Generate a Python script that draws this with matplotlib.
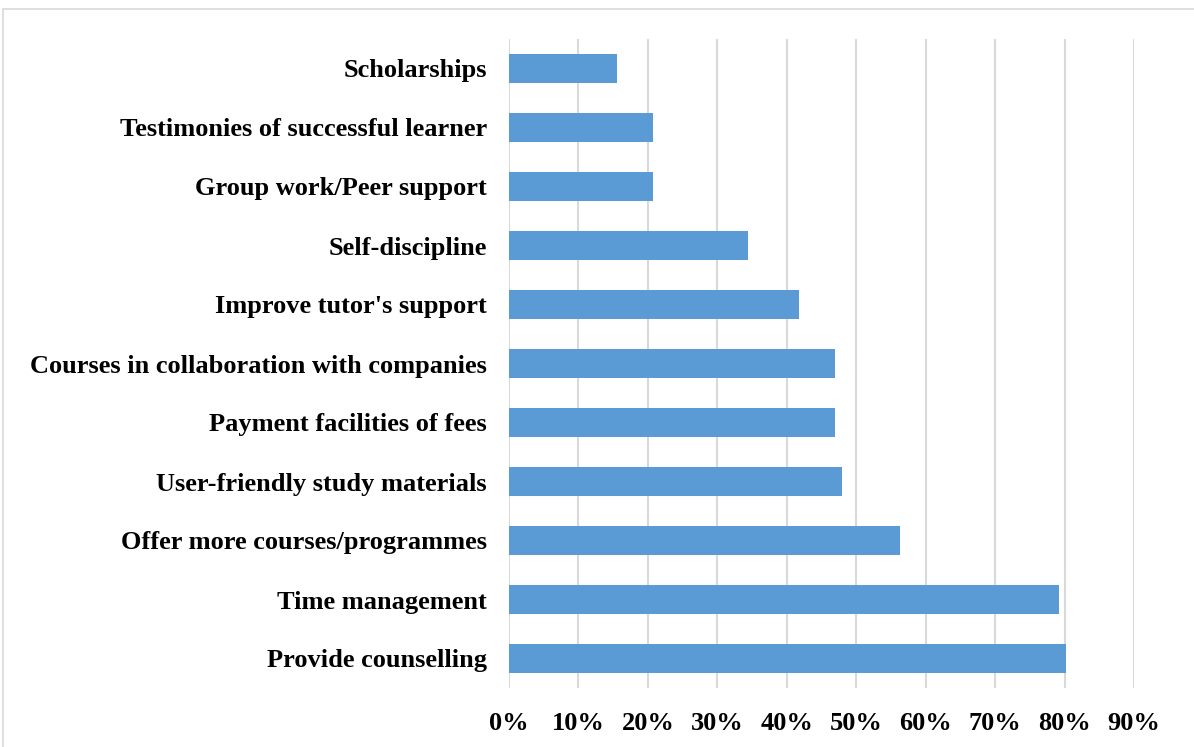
import matplotlib.pyplot as plt
from matplotlib.patches import Rectangle
from matplotlib.ticker import PercentFormatter

# data (top to bottom as shown)
labels = ["Scholarships", "Testimonies of successful learner", "Group work/Peer support",
          "Self-discipline", "Improve tutor's support", "Courses in collaboration with companies",
          "Payment facilities of fees", "User-friendly study materials",
          "Offer more courses/programmes", "Time management", "Provide counselling"]
values = [0.156, 0.208, 0.208, 0.344, 0.417, 0.469, 0.469, 0.479, 0.563, 0.792, 0.802]
xticks = [0, 0.1, 0.2, 0.3, 0.4, 0.5, 0.6, 0.7, 0.8, 0.9]

plt.rcParams['font.family'] = ['Liberation Serif', 'DejaVu Serif']

fig = plt.figure(figsize=(11.94, 7.47), dpi=100)
ax = fig.add_axes([509 / 1194, 1 - 688 / 747, (1134 - 509) / 1194, (688 - 39) / 747])

# chart border
fig.patches.append(Rectangle((3 / 1194, -0.1), 1.1, 1 - 9 / 747 + 0.1, transform=fig.transFigure,
                             fill=False, ec="#d9d9d9", lw=1.2))

ypos = list(range(len(labels)))
ax.barh(ypos, values, height=0.5, color="#5b9bd5", zorder=3)

ax.set_xlim(0, 0.9)
ax.set_ylim(len(labels) - 0.5, -0.5)
ax.set_xticks(xticks)
ax.xaxis.set_major_formatter(PercentFormatter(1.0, decimals=0))
ax.set_yticks(ypos)
ax.set_yticklabels(labels)

ax.grid(axis="x", color="#d9d9d9", lw=1.5, zorder=0)
for s in ax.spines.values():
    s.set_visible(False)
ax.tick_params(axis="both", length=0, labelsize=19)
ax.tick_params(axis="x", pad=17)
ax.tick_params(axis="y", pad=16)
for t in ax.get_xticklabels() + ax.get_yticklabels():
    t.set_fontweight("bold")

fig.savefig("out.png", dpi=100)
